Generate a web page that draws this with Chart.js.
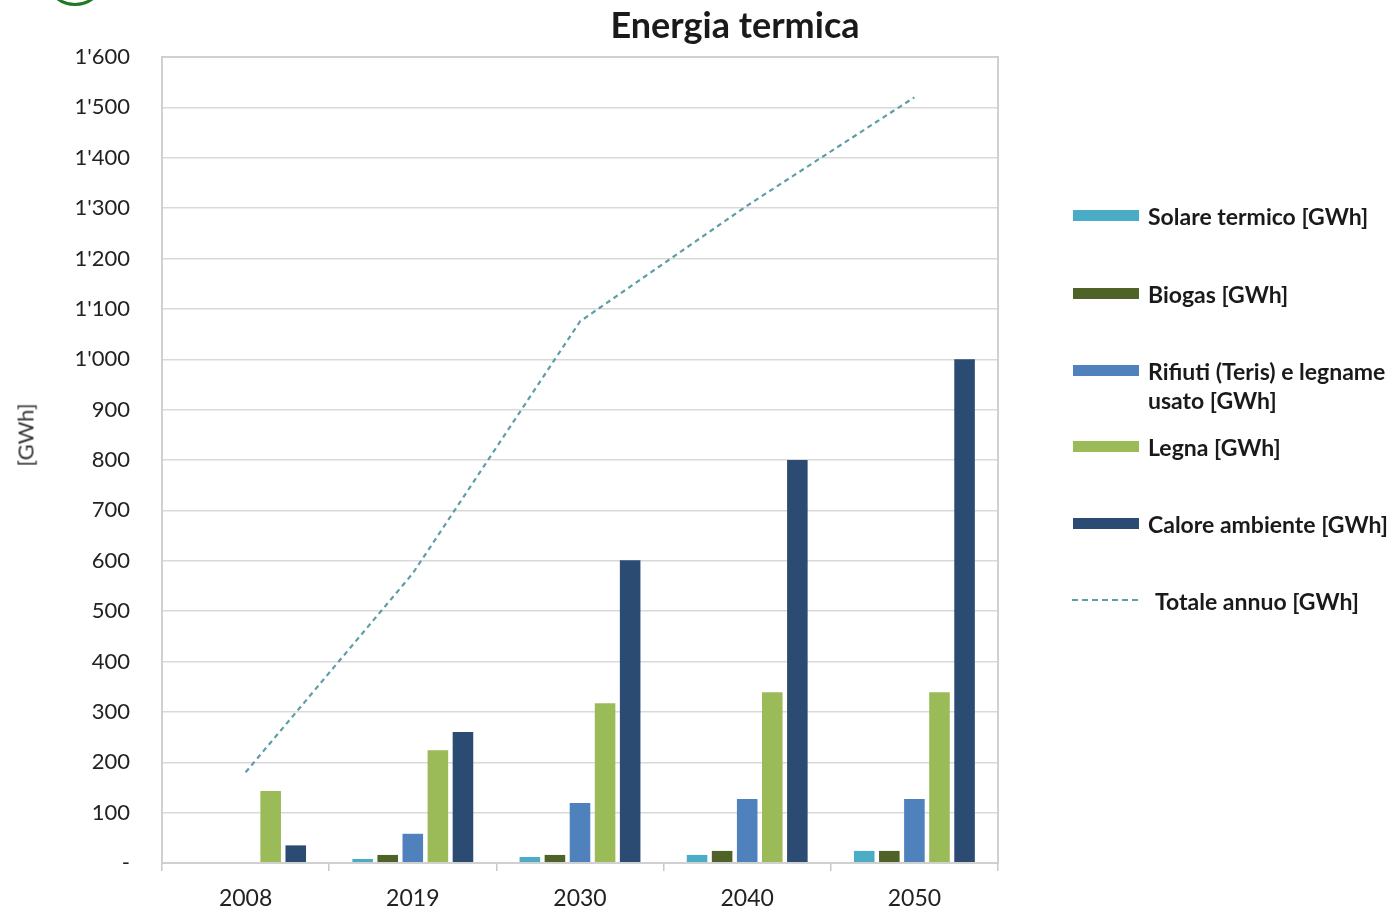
<!DOCTYPE html>
<html>
<head>
<meta charset="utf-8">
<script src="https://cdn.jsdelivr.net/npm/chart.js@4/dist/chart.umd.min.js"></script>
<style>
  html, body { margin:0; padding:0; background:#fff; }
  #wrap { position:relative; width:1393px; height:911px; overflow:hidden; font-family: Lato, "Open Sans", sans-serif; }
  canvas { position:absolute; left:0; top:0; }
  #title { position:absolute; left:0; width:1470px; top:2px; text-align:center; font-weight:bold; font-size:36px; color:#1a1a1a; }
  #circle { position:absolute; left:44px; top:-56px; width:56px; height:56px; border:3px solid #1d7a22; border-radius:50%; }
  #ytitle { position:absolute; left:25px; top:435px; transform:translate(-50%,-50%) rotate(-90deg); font-size:22px; color:#333; white-space:nowrap; }
  .leg { position:absolute; left:1073px; font-size:23px; color:#1a1a1a; font-weight:bold; }
  .sw { position:absolute; left:0; width:66px; height:11px; }
  .lt { position:absolute; left:75px; white-space:nowrap; line-height:29px; }
</style>
</head>
<body>
<div id="wrap">
  <canvas id="c" width="1393" height="911"></canvas>
  <div id="circle"></div>
  <div id="title">Energia termica</div>
  <div id="ytitle">[GWh]</div>
  <div id="legend"></div>
</div>
<script>
const categories = ['2008', '2019', '2030', '2040', '2050'];
const solare   = [0, 8, 12, 16, 24];
const biogas   = [0, 16, 16, 24, 24];
const rifiuti  = [0, 58, 119, 127, 127];
const legna    = [143, 224, 317, 339, 339];
const calore   = [35, 260, 601, 800, 1000];
const totale   = [180, 575, 1075, 1305, 1520];
const seriesNames = ['Solare termico [GWh]', 'Biogas [GWh]', 'Rifiuti (Teris) e legname usato [GWh]', 'Legna [GWh]', 'Calore ambiente [GWh]', 'Totale annuo [GWh]'];
const colors = ['#4bacc6', '#4f6228', '#4f81bd', '#9bbb59', '#2b4b73', '#5f9ea6'];

const barSets = [solare, biogas, rifiuti, legna, calore].map((d, i) => ({
  type: 'bar', label: seriesNames[i], data: d, backgroundColor: colors[i],
  borderColor: colors[i], borderWidth: 0, order: 1,
  categoryPercentage: 0.75, barPercentage: 0.82
}));

const frame = {
  id: 'frame',
  afterDraw(chart) {
    const {ctx, chartArea: a} = chart;
    ctx.save();
    ctx.strokeStyle = '#d0d0d0';
    ctx.lineWidth = 2;
    ctx.strokeRect(a.left, a.top, a.right - a.left, a.bottom - a.top);
    ctx.restore();
  }
};

new Chart(document.getElementById('c'), {
  data: {
    labels: categories,
    datasets: [
      ...barSets,
      { type: 'line', label: seriesNames[5], data: totale, borderColor: colors[5],
        borderWidth: 2.2, borderDash: [5, 4], pointRadius: 0, fill: false, order: 0, tension: 0 }
    ]
  },
  options: {
    responsive: false,
    animation: false,
    layout: { padding: { left: 0, right: 395, top: 57, bottom: 0 } },
    plugins: { legend: { display: false }, title: { display: false }, tooltip: { enabled: false } },
    scales: {
      y: {
        min: 0, max: 1600,
        ticks: {
          stepSize: 100, padding: 32, color: '#222',
          font: { family: 'Lato', size: 22 },
          callback: v => v === 0 ? '-' : String(v).replace(/\B(?=(\d{3})+(?!\d))/g, "'")
        },
        grid: { color: '#d9d9d9', lineWidth: 1.5, drawTicks: false },
        border: { display: false },
        afterFit: s => { s.width = 162; }
      },
      x: {
        ticks: { color: '#222', font: { family: 'Lato', size: 23 }, padding: 14 },
        grid: { offset: true, drawOnChartArea: false, tickLength: 8, color: '#c8c8c8', lineWidth: 1.5 },
        border: { display: false },
        afterFit: s => { s.height = 911 - 863; }
      }
    }
  },
  plugins: [frame]
});

// HTML legend
const legendTops = [203, 281, 358, 434, 511, 588];
const leg = document.getElementById('legend');
seriesNames.forEach((n, i) => {
  const d = document.createElement('div');
  d.className = 'leg';
  d.style.top = legendTops[i] + 'px';
  let sw;
  if (i === 5) {
    sw = `<div class="sw" style="top:11px;height:0;border-top:2px dashed ${colors[i]};left:-1px;width:66px"></div>`;
  } else {
    sw = `<div class="sw" style="top:7px;background:${colors[i]}"></div>`;
  }
  const txt = i === 2 ? 'Rifiuti (Teris) e legname<br>usato [GWh]' : n;
  d.innerHTML = sw + `<div class="lt" style="top:-1px;${i===5?'left:82px':''}">${txt}</div>`;
  leg.appendChild(d);
});
</script>
</body>
</html>
